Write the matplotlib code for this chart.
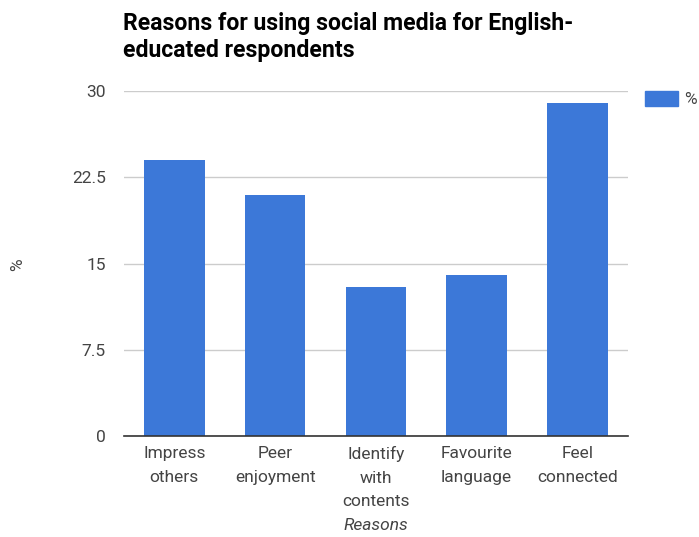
import matplotlib.pyplot as plt
import matplotlib.patches as mpatches

plt.rcParams['font.family'] = ['Roboto', 'DejaVu Sans']

reasons = ["Impress\nothers", "Peer\nenjoyment", "Identify\nwith\ncontents",
           "Favourite\nlanguage", "Feel\nconnected"]
percent = [24, 21, 13, 14, 29]
yticks = [0, 7.5, 15, 22.5, 30]
ytick_labels = ["0", "7.5", "15", "22.5", "30"]

bar_color = "#3c78d8"
text_gray = "#444444"

fig = plt.figure(figsize=(6.99, 5.37), dpi=100)
ax = fig.add_axes([0.1774, 0.188, 0.7206, 0.6425])

x = range(len(reasons))
ax.bar(x, percent, width=0.6, color=bar_color, zorder=3)

ax.set_xlim(-0.5, len(reasons) - 0.5)
ax.set_ylim(0, 30)
ax.set_yticks(yticks)
ax.set_yticklabels(ytick_labels)
ax.set_xticks(list(x))
ax.set_xticklabels(reasons, linespacing=1.73)

ax.grid(axis='y', color='#cccccc', linewidth=1, zorder=0)
for s in ['top', 'right', 'left']:
    ax.spines[s].set_visible(False)
ax.spines['bottom'].set_color('#333333')
ax.spines['bottom'].set_linewidth(1.2)
ax.spines['bottom'].set_zorder(4)
ax.tick_params(axis='both', length=0, labelsize=12.5, colors=text_gray)
ax.tick_params(axis='y', pad=13)
ax.tick_params(axis='x', pad=7)

ax.set_xlabel("Reasons", fontsize=12.5, style='italic', color=text_gray, labelpad=6)
fig.text(18 / 699, 1 - 265 / 537, "%", rotation=90, fontsize=12.5, color=text_gray,
         ha='center', va='center')

fig.text(123 / 699, 1 - 12 / 537,
         "Reasons for using social media for English-\neducated respondents",
         fontsize=16.6, fontweight='bold', color='#000000', ha='left', va='top',
         linespacing=1.25)

# legend
fig.patches.append(mpatches.Rectangle((645 / 699, 1 - 106 / 537), 33 / 699, 15 / 537,
                                      transform=fig.transFigure, color=bar_color))
fig.text(684 / 699, 1 - 99 / 537, "%", fontsize=12.5, color=text_gray, ha='left', va='center')

fig.savefig("out.png", dpi=100)
